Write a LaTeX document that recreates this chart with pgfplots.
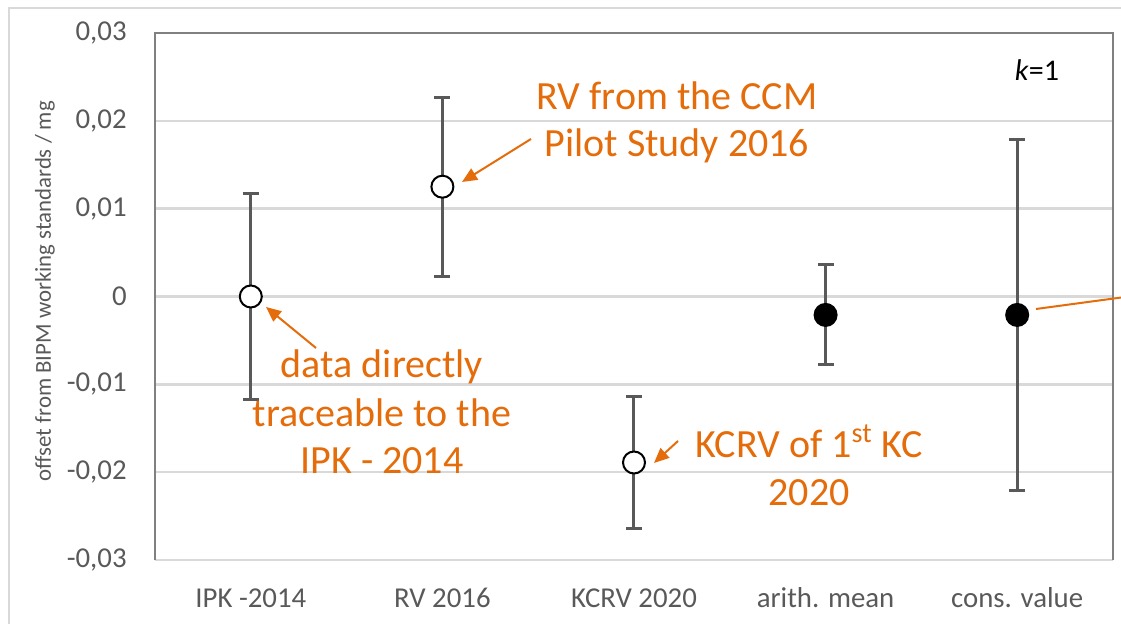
\documentclass[border=0pt]{standalone}
\usepackage{pgfplots}
\pgfplotsset{compat=1.18}
\usepackage{fontspec}
\setmainfont{Carlito}
\usetikzlibrary{arrows.meta}
\definecolor{orng}{HTML}{E46C0A}
\definecolor{tickgray}{HTML}{595959}
\definecolor{gridgray}{HTML}{D9D9D9}
\definecolor{framegray}{HTML}{808080}
\definecolor{bargray}{HTML}{595959}

\pgfplotstableread{
x y err
0.5 0.0000 0.0117
1.5 0.0125 0.0102
2.5 -0.0189 0.0075
3.5 -0.0021 0.0057
4.5 -0.0021 0.0200
}\alldata
\pgfplotstableread{
x y
0.5 0.0000
1.5 0.0125
2.5 -0.0189
}\opendata
\pgfplotstableread{
x y
3.5 -0.0021
4.5 -0.0021
}\filleddata

\begin{document}
\begin{tikzpicture}[x=0.5pt,y=0.5pt]
\useasboundingbox (0,0) rectangle (1121,624);
\draw[gridgray, line width=0.6pt] (9,0) -- (9,616) -- (1125,616);
\begin{axis}[
  at={(77.5pt,32pt)}, anchor=south west,
  scale only axis, width=479pt, height=263.5pt,
  xmin=0, xmax=5, ymin=-0.03, ymax=0.03,
  scaled y ticks=false,
  axis line style={draw=none},
  tick style={draw=none},
  major tick length=0pt,
  xtick={0.5,1.5,2.5,3.5,4.5},
  xticklabels={IPK -2014, RV 2016, KCRV 2020, arith. mean, cons. value},
  ytick={-0.03,-0.02,-0.01,0,0.01,0.02,0.03},
  yticklabels={{-0,03},{-0,02},{-0,01},0,{0,01},{0,02},{0,03}},
  xticklabel style={anchor=base, yshift=-24pt, font=\fontsize{14.4}{16}\selectfont, text=tickgray},
  yticklabel style={anchor=east, inner sep=0pt, xshift=-14pt, font=\fontsize{14.4}{16}\selectfont, text=tickgray},
  ymajorgrids, grid style={gridgray, line width=1.3pt},
  ylabel={offset from BIPM working standards / mg},
  ylabel style={at={(axis description cs:-0.1148,0.51)}, anchor=center, font=\fontsize{11.4}{13}\selectfont, text=tickgray},
  clip=false,
]
\addplot[only marks, mark=none,
  error bars/.cd, y dir=both, y explicit,
  error bar style={line width=1.5pt, color=bargray},
  error mark options={rotate=90, mark size=4pt, line width=1.5pt, color=bargray}]
  table[x=x, y=y, y error=err] {\alldata};
\addplot[only marks, mark=*, mark size=5.5pt, mark options={fill=white, draw=black, line width=1pt}]
  table[x=x, y=y] {\opendata};
\addplot[only marks, mark=*, mark size=5.5pt, mark options={fill=black, draw=black, line width=1pt}]
  table[x=x, y=y] {\filleddata};
\draw[framegray, line width=1.3pt] (rel axis cs:0,0) -- (rel axis cs:0,1) -- (rel axis cs:1,1) -- (rel axis cs:1,0);
\end{axis}
\begin{scope}[every node/.style={anchor=base, inner sep=0pt, text=orng, font=\fontsize{20}{22}\selectfont}]
\node at (677,514) {RV from the CCM};
\node at (677,467) {Pilot Study 2016};
\node at (382,246) {data directly};
\node at (382,197) {traceable to the};
\node at (382,150) {IPK - 2014};
\node at (809,166) {KCRV of 1\textsuperscript{st} KC};
\node at (809,118) {2020};
\end{scope}
\node[anchor=base, inner sep=0pt, font=\fontsize{15}{17}\selectfont] at (1037,543) {\textit{k}=1};
\begin{scope}[orng, line width=1pt, -{Triangle[length=7.5pt, width=6.5pt]}]
\draw (316,276) -- (266,317);
\draw (531,485) -- (462,442);
\draw (678,183) -- (654,161);
\end{scope}
\draw[orng, line width=1pt] (1036,315) -- (1125,327);
\end{tikzpicture}
\end{document}
